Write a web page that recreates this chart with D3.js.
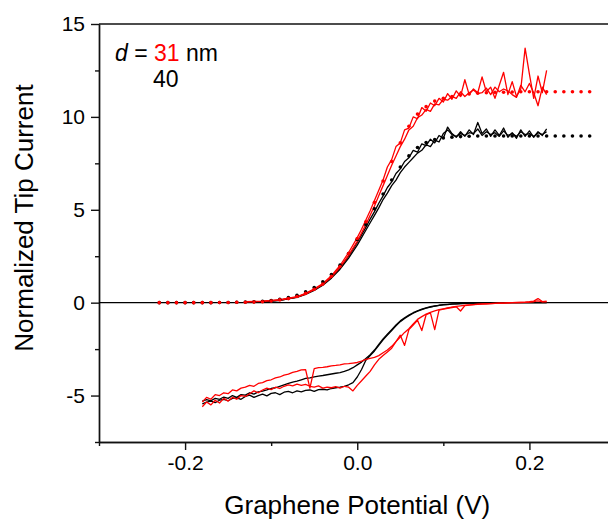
<!DOCTYPE html>
<html>
<head>
<meta charset="utf-8">
<script src="https://cdn.jsdelivr.net/npm/d3@7"></script>
<style>
  body { margin: 0; background: #fff; }
  svg { display: block; }
  text { font-family: "Liberation Sans", Arial, sans-serif; fill: #000; }
</style>
</head>
<body>
<svg id="chart" width="608" height="521"></svg>
<script>
    // tip current traces (normalized), sampled on vTip
    var vTip = [-0.13, -0.11, -0.09, -0.07, -0.06, -0.05, -0.04, -0.03, -0.02, -0.01, 0.00,
      0.005, 0.01, 0.015, 0.02, 0.025, 0.03, 0.035, 0.04, 0.045, 0.05,
      0.055, 0.06, 0.065, 0.07, 0.075, 0.08, 0.085, 0.09, 0.095, 0.10,
      0.105, 0.11, 0.115, 0.12, 0.125, 0.13, 0.135, 0.14, 0.145, 0.15,
      0.155, 0.16, 0.165, 0.17, 0.175, 0.18, 0.185, 0.19, 0.195, 0.20,
      0.205, 0.21, 0.215, 0.22];
    var tipRed1 = [0.06, 0.08, 0.16, 0.33, 0.5, 0.74, 1.03, 1.45, 2.0, 2.7, 3.5,
      3.95, 4.45, 4.95, 5.5, 6.05, 6.6, 7.3, 7.7, 8.4, 8.6,
      9.3, 9.4, 10.0, 9.9, 10.5, 10.3, 10.75, 10.6, 11.0, 10.8,
      11.25, 10.95, 11.4, 11.1, 12.0, 11.2, 11.5, 11.3, 12.15, 11.35,
      11.6, 11.0, 11.7, 12.4, 11.2, 11.9, 11.1, 11.5, 13.7, 12.3,
      11.0, 12.2, 11.3, 12.5];
    var tipRed2 = [0.04, 0.07, 0.14, 0.3, 0.46, 0.7, 0.98, 1.38, 1.9, 2.55, 3.3,
      3.75, 4.2, 4.7, 5.2, 5.75, 6.3, 6.85, 7.4, 7.9, 8.4,
      8.8, 9.3, 9.5, 9.95, 10.1, 10.4, 10.3, 10.7, 10.65, 10.95,
      10.9, 11.1, 11.0, 11.35, 11.1, 11.3, 11.45, 11.25, 11.3, 11.55,
      11.2, 11.6, 11.35, 11.5, 11.4, 11.2, 11.05, 11.7, 11.35, 11.8,
      11.3, 10.6, 11.6, 11.2];
    var tipBlk1 = [0.04, 0.06, 0.13, 0.3, 0.47, 0.7, 0.98, 1.38, 1.88, 2.5, 3.25,
      3.65, 4.05, 4.5, 4.9, 5.35, 5.75, 6.2, 6.5, 6.95, 7.2,
      7.6, 7.8, 8.2, 8.1, 8.55, 8.45, 8.8, 8.6, 9.0, 8.85,
      9.45, 9.1, 8.9, 9.2, 8.95, 9.3, 9.05, 9.7, 9.1, 9.35,
      8.95, 9.3, 9.0, 9.4, 8.9, 9.15, 8.85, 9.3, 8.95, 9.25,
      8.9, 9.2, 9.0, 9.35];
    var tipBlk2 = [0.03, 0.05, 0.12, 0.28, 0.44, 0.66, 0.94, 1.32, 1.8, 2.4, 3.1,
      3.5, 3.9, 4.3, 4.7, 5.1, 5.55, 5.9, 6.3, 6.6, 7.0,
      7.3, 7.55, 7.8, 8.05, 8.2, 8.5, 8.4, 8.75, 8.65, 9.1,
      9.3, 9.05, 8.95, 9.1, 9.0, 9.15, 9.1, 9.35, 9.0, 9.2,
      9.05, 9.15, 8.95, 9.25, 9.0, 9.1, 8.95, 9.2, 9.05, 9.1,
      8.95, 9.15, 9.05, 9.2];

    // theory curves (dots), sampled on vTheory
    var vTheory = [-0.23, -0.22, -0.21, -0.20, -0.19, -0.18, -0.17, -0.16, -0.15, -0.14,
      -0.13, -0.12, -0.11, -0.10, -0.09, -0.08, -0.07, -0.06, -0.05, -0.04,
      -0.03, -0.02, -0.01, 0.00, 0.01, 0.02, 0.03, 0.04, 0.05, 0.06,
      0.07, 0.08, 0.09, 0.10, 0.11, 0.12, 0.13, 0.14, 0.15, 0.16,
      0.17, 0.18, 0.19, 0.20, 0.21, 0.22, 0.23, 0.24, 0.25, 0.26, 0.27];
    var theoRed = [0, 0, 0, 0, 0, 0, 0, 0.01, 0.01, 0.02,
      0.02, 0.03, 0.05, 0.09, 0.15, 0.22, 0.33, 0.5, 0.72, 1.0,
      1.42, 1.95, 2.65, 3.45, 4.35, 5.4, 6.55, 7.6, 8.6, 9.5,
      10.15, 10.55, 10.85, 11.0, 11.1, 11.18, 11.23, 11.27, 11.3, 11.32,
      11.33, 11.34, 11.35, 11.35, 11.35, 11.35, 11.35, 11.35, 11.35, 11.35, 11.35];
    var theoBlk = [0, 0, 0, 0, 0, 0, 0, 0.01, 0.01, 0.02,
      0.03, 0.05, 0.08, 0.12, 0.18, 0.27, 0.4, 0.58, 0.82, 1.12,
      1.52, 2.02, 2.65, 3.4, 4.2, 5.05, 5.85, 6.6, 7.3, 7.9,
      8.35, 8.62, 8.78, 8.86, 8.91, 8.94, 8.96, 8.97, 8.97, 8.97,
      8.97, 8.97, 8.97, 8.97, 8.97, 8.97, 8.97, 8.97, 8.97, 8.97, 8.97];

    // substrate current traces (negative), sampled on vSub
    var vSub = [-0.18, -0.175, -0.17, -0.165, -0.16, -0.155, -0.15, -0.145, -0.14, -0.135,
      -0.13, -0.125, -0.12, -0.115, -0.11, -0.105, -0.10, -0.095, -0.09, -0.085,
      -0.08, -0.075, -0.07, -0.065, -0.06, -0.055, -0.05, -0.045, -0.04, -0.035,
      -0.03, -0.025, -0.02, -0.015, -0.01, -0.005, 0.00, 0.005, 0.01, 0.015,
      0.02, 0.025, 0.03, 0.035, 0.04, 0.045, 0.05, 0.055, 0.06, 0.065,
      0.07, 0.075, 0.08, 0.085, 0.09, 0.095, 0.10, 0.105, 0.11, 0.115,
      0.12, 0.125, 0.13, 0.135, 0.14, 0.145, 0.15, 0.155, 0.16, 0.165,
      0.17, 0.175, 0.18, 0.185, 0.19, 0.195, 0.20, 0.205, 0.21, 0.215, 0.22];
    var subBlkLo = [-5.45, -5.35, -5.3, -5.38, -5.25, -5.2, -5.28, -5.15, -5.12, -5.2,
      -5.05, -4.98, -5.1, -5.0, -4.92, -5.02, -4.88, -4.85, -4.95, -4.82,
      -4.78, -4.85, -4.75, -4.8, -4.72, -4.7, -4.78, -4.68, -4.66, -4.7,
      -4.62, -4.58, -4.55, -4.5, -4.42, -4.3, -4.0, -3.6, -3.1, -2.85,
      -2.6, -2.3, -2.0, -1.75, -1.5, -1.25, -1.02, -0.85, -0.7, -0.57,
      -0.46, -0.37, -0.3, -0.24, -0.19, -0.15, -0.12, -0.1, -0.08, -0.065,
      -0.05, -0.04, -0.03, -0.025, -0.02, -0.015, -0.01, -0.01, -0.01, -0.005,
      0, 0, 0, 0, 0, 0, 0, 0, 0, 0, 0];
    var subBlkUp = [-5.3, -5.22, -5.28, -5.15, -5.2, -5.08, -5.15, -5.0, -5.1, -4.95,
      -4.98, -4.85, -4.92, -4.8, -4.76, -4.7, -4.62, -4.58, -4.5, -4.42,
      -4.35, -4.28, -4.22, -4.15, -4.08, -4.05, -4.0, -3.95, -3.92, -3.88,
      -3.84, -3.8, -3.76, -3.7, -3.62, -3.5, -3.35, -3.2, -3.0, -2.8,
      -2.55, -2.25, -1.95, -1.7, -1.45, -1.2, -0.98, -0.82, -0.67, -0.54,
      -0.44, -0.35, -0.28, -0.22, -0.18, -0.14, -0.11, -0.09, -0.07, -0.06,
      -0.05, -0.04, -0.03, -0.02, -0.02, -0.01, -0.01, -0.01, 0, 0,
      0, 0, 0, 0, 0, 0, 0, 0, 0, 0, 0];
    var subRedLo = [-5.6, -5.35, -5.5, -5.25, -5.4, -5.15, -5.3, -5.1, -5.2, -5.0,
      -5.05, -4.9, -4.75, -4.85, -4.7, -4.6, -4.68, -4.55, -4.62, -4.5,
      -4.42, -4.48, -4.38, -4.45, -4.4, -4.5, -4.55, -4.48, -4.6, -4.55,
      -4.58, -4.52, -4.6, -4.5, -4.55, -4.75, -4.45, -4.2, -3.95, -3.7,
      -3.35, -3.05, -2.85, -2.65, -2.45, -2.1, -1.75, -2.3, -1.45, -1.2,
      -0.95, -1.5, -0.65, -0.55, -1.45, -0.4, -0.35, -0.3, -0.26, -0.22,
      -0.45, -0.16, -0.13, -0.11, -0.09, -0.08, -0.06, -0.05, -0.04, -0.03,
      -0.02, -0.01, 0, 0.01, 0.02, 0.03, 0.05, 0.08, 0.22, 0.06, 0.08];
    var subRedUp = [-5.35, -5.1, -5.2, -4.95, -5.0, -4.85, -4.9, -4.7, -4.75, -4.6,
      -4.55, -4.45, -4.5, -4.35, -4.3, -4.2, -4.15, -4.05, -4.0, -3.9,
      -3.85, -3.75, -3.7, -3.62, -3.6, -4.6, -3.55, -3.5, -3.48, -3.45,
      -3.4, -3.38, -3.35, -3.3, -3.28, -3.25, -3.22, -3.15, -3.05, -3.0,
      -2.95, -2.85, -2.7, -2.55, -2.35, -2.1, -1.85, -1.6, -1.4, -1.15,
      -0.9, -0.75, -0.62, -0.52, -0.44, -0.38, -0.33, -0.28, -0.24, -0.2,
      -0.17, -0.14, -0.12, -0.1, -0.08, -0.07, -0.06, -0.05, -0.04, -0.03,
      -0.02, -0.01, 0, 0, 0.01, 0.02, 0.03, 0.05, 0.1, 0.04, 0.05];

    var xMajor = [-0.2, 0, 0.2];
    var xMinor = [-0.3, -0.1, 0.1, 0.3];
    var yMajor = [-5, 0, 5, 10, 15];
    var yMinor = [-7.5, -2.5, 2.5, 7.5, 12.5];

    var clrRed = "#ff0000";
    var clrBlk = "#000000";

    var svg = d3.select("#chart");
    var x = d3.scaleLinear().domain([-0.3, 0.3]).range([99, 615.5]);
    var y = d3.scaleLinear().domain([-7.5, 15]).range([442, 24]);

    // axes
    var axL = svg.append("g").attr("transform", "translate(" + x(-0.3) + ",0)");
    axL.call(d3.axisLeft(y).tickValues(yMajor).tickSize(8).tickSizeOuter(0).tickPadding(6)
      .tickFormat(function (d) { return String(d); }));
    axL.append("g").call(d3.axisLeft(y).tickValues(yMinor).tickSize(4).tickSizeOuter(0).tickFormat(""));

    var axB = svg.append("g").attr("transform", "translate(0," + y(-7.5) + ")");
    axB.call(d3.axisBottom(x).tickValues(xMajor).tickSize(8).tickSizeOuter(0).tickPadding(5)
      .tickFormat(function (d) { return d.toFixed(1); }));
    axB.append("g").call(d3.axisBottom(x).tickValues(xMinor).tickSize(4).tickSizeOuter(0).tickFormat(""));

    svg.selectAll(".domain, .tick line").attr("stroke", "#111").attr("stroke-width", 1.4);
    svg.selectAll(".tick text").style("font-size", "21px").attr("fill", "#000");

    // top frame line
    svg.append("line")
      .attr("x1", x(-0.3)).attr("x2", x(0.3))
      .attr("y1", y(15)).attr("y2", y(15))
      .attr("stroke", "#111").attr("stroke-width", 1.4);

    // zero line
    svg.append("line")
      .attr("x1", x(-0.3)).attr("x2", x(0.3))
      .attr("y1", y(0)).attr("y2", y(0))
      .attr("stroke", "#000").attr("stroke-width", 1.3);

    var line = d3.line().x(function (d) { return x(d[0]); }).y(function (d) { return y(d[1]); });

    function trace(xs, ys, clr) {
      svg.append("path")
        .datum(d3.zip(xs, ys))
        .attr("d", line)
        .attr("fill", "none")
        .attr("stroke", clr)
        .attr("stroke-width", 1.3)
        .attr("stroke-linejoin", "round");
    }

    trace(vSub, subBlkLo, clrBlk);
    trace(vSub, subBlkUp, clrBlk);
    trace(vTip, tipBlk1, clrBlk);
    trace(vTip, tipBlk2, clrBlk);
    trace(vSub, subRedLo, clrRed);
    trace(vSub, subRedUp, clrRed);
    trace(vTip, tipRed1, clrRed);
    trace(vTip, tipRed2, clrRed);

    function dots(xs, ys, clr) {
      svg.append("g").selectAll("circle")
        .data(d3.zip(xs, ys))
        .enter()
        .append("circle")
          .attr("cx", function (d) { return x(d[0]); })
          .attr("cy", function (d) { return y(d[1]); })
          .attr("r", 1.8)
          .attr("fill", clr);
    }
    dots(vTheory, theoBlk, clrBlk);
    dots(vTheory, theoRed, clrRed);

    // axis titles
    svg.append("text")
      .attr("x", x(0)).attr("y", 514)
      .style("text-anchor", "middle")
      .style("font-size", "26px")
      .text("Graphene Potential (V)");
    svg.append("text")
      .attr("transform", "translate(33,218) rotate(-90)")
      .style("text-anchor", "middle")
      .style("font-size", "26px")
      .text("Normalized Tip Current");

    // legend
    var lg = svg.append("text")
      .attr("x", 115).attr("y", 61)
      .style("font-size", "23px");
    lg.append("tspan").style("font-style", "italic").text("d");
    lg.append("tspan").text(" = ");
    lg.append("tspan").attr("fill", clrRed).text("31");
    lg.append("tspan").text(" nm");
    svg.append("text")
      .attr("x", 153).attr("y", 87)
      .style("font-size", "23px")
      .text("40");
</script>
</body>
</html>
